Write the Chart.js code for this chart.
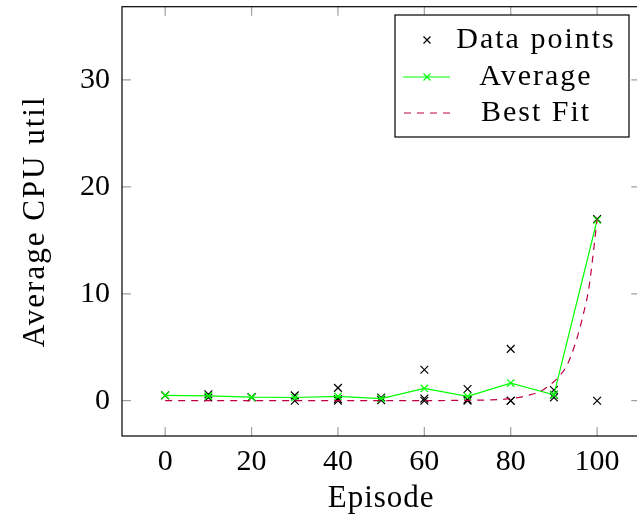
<!DOCTYPE html>
<html>
<head>
<meta charset="utf-8">
<script src="https://cdn.jsdelivr.net/npm/chart.js@4"></script>
<style>
  html, body { margin: 0; padding: 0; background: #fff; overflow: hidden; }
  #wrap { width: 647px; height: 522px; }
</style>
</head>
<body>
<div id="wrap"><canvas id="cpu" width="647" height="522"></canvas></div>
<script>
// Episodes at which CPU utilisation was sampled
const episodes = [0, 10, 20, 30, 40, 50, 60, 70, 80, 90, 100];
// Individual CPU utilisation samples per episode
const cpuSamples = [
  [0.5],
  [0.6, 0.3],
  [0.35, 0.3],
  [0.5, 0.0],
  [1.2, 0.15, 0.0],
  [0.3, 0.05],
  [2.9, 0.2, 0.0],
  [1.1, 0.1, 0.0],
  [4.85, 0.0, 0.0],
  [1.0, 0.55, 0.3],
  [17.0, 0.0]
];
// Mean utilisation per episode
const averageUtil = [0.5, 0.45, 0.33, 0.3, 0.4, 0.2, 1.15, 0.4, 1.65, 0.55, 16.9];
// Fitted curve
const fitEpisodes = [0, 10, 20, 30, 40, 50, 60, 65, 70, 75, 78, 81, 84, 87, 89, 91, 93, 95, 96, 97, 98, 99, 100];
const fitUtil = [0, 0, 0, 0, 0, 0, 0, 0.02, 0.04, 0.07, 0.12, 0.25, 0.5, 0.9, 1.45, 2.2, 3.3, 5.4, 6.8, 8.4, 10.3, 13.4, 17.0];
// Axis ticks
const xTicks = [0, 20, 40, 60, 80, 100];
const yTicks = [0, 10, 20, 30];

const seriesNames = ['Data points', 'Average', 'Best Fit'];
const xTitle = 'Episode';
const yTitle = 'Average CPU util';
const SERIF = "'Liberation Serif', 'Times New Roman', serif";

const samplePoints = episodes.flatMap((ep, i) => cpuSamples[i].map(v => ({ x: ep, y: v })));
const averagePoints = episodes.map((ep, i) => ({ x: ep, y: averageUtil[i] }));
const fitPoints = fitEpisodes.map((ep, i) => ({ x: ep, y: fitUtil[i] }));

const FIT_COLOR = 'rgb(191,0,64)';
const AVG_COLOR = 'rgb(0,255,0)';

// Keep the plot box exactly where the fixed axis sizes put it
function noScalePadding(scale) {
  scale.paddingLeft = 0; scale.paddingRight = 0;
  scale.paddingTop = 0; scale.paddingBottom = 0;
}

// Inward tick marks on all four sides plus the black frame
const frameTicks = {
  id: 'frameTicks',
  afterDatasetsDraw(chart) {
    const { ctx, chartArea: a, scales } = chart;
    const len = 9;
    ctx.save();
    ctx.strokeStyle = '#a0a0a0';
    ctx.lineWidth = 1.2;
    ctx.beginPath();
    xTicks.forEach(v => {
      const px = scales.x.getPixelForValue(v);
      ctx.moveTo(px, a.bottom); ctx.lineTo(px, a.bottom - len);
      ctx.moveTo(px, a.top); ctx.lineTo(px, a.top + len);
    });
    yTicks.forEach(v => {
      const py = scales.y.getPixelForValue(v);
      ctx.moveTo(a.left, py); ctx.lineTo(a.left + len, py);
      ctx.moveTo(a.right, py); ctx.lineTo(a.right - len, py);
    });
    ctx.stroke();
    ctx.strokeStyle = '#000';
    ctx.lineWidth = 1.2;
    ctx.strokeRect(a.left, a.top, a.right - a.left, a.bottom - a.top);
    ctx.restore();
  }
};

// Axis titles, set a little loose like the tick label face
const axisTitles = {
  id: 'axisTitles',
  afterDraw(chart) {
    const { ctx, chartArea: a } = chart;
    ctx.save();
    ctx.fillStyle = '#000';
    ctx.textAlign = 'center';
    ctx.textBaseline = 'alphabetic';
    ctx.font = `31px ${SERIF}`;
    ctx.letterSpacing = '1px';
    ctx.fillText(xTitle, (a.left + a.right) / 2, 507);
    ctx.letterSpacing = '2px';
    ctx.translate(44, (a.top + a.bottom) / 2);
    ctx.rotate(-Math.PI / 2);
    ctx.fillText(yTitle, 0, 0);
    ctx.restore();
  }
};

// Boxed legend in the upper right corner
const boxLegend = {
  id: 'boxLegend',
  afterDraw(chart) {
    const { ctx } = chart;
    const box = { x: 395, y: 15, w: 234, h: 122 };
    const rows = [40, 77, 113];
    const symX = 427, textX = 536;
    ctx.save();
    ctx.fillStyle = '#fff';
    ctx.fillRect(box.x, box.y, box.w, box.h);
    ctx.strokeStyle = '#000';
    ctx.lineWidth = 1.2;
    ctx.strokeRect(box.x, box.y, box.w, box.h);

    const cross = (x, y, r, color) => {
      ctx.strokeStyle = color;
      ctx.lineWidth = 1.2;
      ctx.beginPath();
      ctx.moveTo(x - r, y - r); ctx.lineTo(x + r, y + r);
      ctx.moveTo(x - r, y + r); ctx.lineTo(x + r, y - r);
      ctx.stroke();
    };
    // Data points
    cross(symX, rows[0], 3.5, '#000');
    // Average
    ctx.strokeStyle = AVG_COLOR;
    ctx.lineWidth = 1.2;
    ctx.beginPath(); ctx.moveTo(403, rows[1]); ctx.lineTo(450, rows[1]); ctx.stroke();
    cross(symX, rows[1], 3.5, AVG_COLOR);
    // Best Fit
    ctx.strokeStyle = FIT_COLOR;
    ctx.setLineDash([7, 6]);
    ctx.beginPath(); ctx.moveTo(404, rows[2]); ctx.lineTo(450, rows[2]); ctx.stroke();
    ctx.setLineDash([]);

    ctx.fillStyle = '#000';
    ctx.font = `30px ${SERIF}`;
    ctx.letterSpacing = '2px';
    ctx.textAlign = 'center';
    ctx.textBaseline = 'middle';
    seriesNames.forEach((name, i) => ctx.fillText(name, textX, rows[i]));
    ctx.restore();
  }
};

// Layering: samples at the bottom, then the average, then the fit on top
new Chart(document.getElementById('cpu'), {
  type: 'scatter',
  data: {
    datasets: [
      {
        label: seriesNames[0],
        data: samplePoints,
        showLine: false,
        pointStyle: 'crossRot',
        pointRadius: 5.5,
        pointBorderWidth: 1.2,
        borderColor: '#000',
        backgroundColor: '#000',
        order: 2
      },
      {
        label: seriesNames[1],
        data: averagePoints,
        showLine: true,
        borderColor: AVG_COLOR,
        backgroundColor: AVG_COLOR,
        borderWidth: 1.2,
        pointStyle: 'crossRot',
        pointRadius: 5.2,
        pointBorderWidth: 1.2,
        tension: 0,
        order: 1
      },
      {
        label: seriesNames[2],
        data: fitPoints,
        showLine: true,
        borderColor: FIT_COLOR,
        backgroundColor: FIT_COLOR,
        borderWidth: 1.2,
        borderDash: [7, 6],
        pointRadius: 0,
        cubicInterpolationMode: 'monotone',
        order: 0
      }
    ]
  },
  options: {
    responsive: false,
    animation: false,
    events: [],
    layout: { padding: { top: 6, right: 0, left: 0, bottom: 0 } },
    plugins: { legend: { display: false }, tooltip: { enabled: false } },
    scales: {
      x: {
        type: 'linear',
        min: -10,
        max: 110,
        afterFit(scale) { scale.height = 86; noScalePadding(scale); },
        afterBuildTicks(scale) { scale.ticks = xTicks.map(v => ({ value: v })); },
        grid: { display: false, drawTicks: false },
        border: { display: false },
        ticks: { color: '#000', padding: 8, font: { family: SERIF, size: 30 }, maxRotation: 0 }
      },
      y: {
        type: 'linear',
        min: -3.3,
        max: 36.85,
        afterFit(scale) { scale.width = 122; noScalePadding(scale); },
        afterBuildTicks(scale) { scale.ticks = yTicks.map(v => ({ value: v })); },
        grid: { display: false, drawTicks: false },
        border: { display: false },
        ticks: { color: '#000', padding: 12, font: { family: SERIF, size: 30 } }
      }
    }
  },
  plugins: [frameTicks, axisTitles, boxLegend]
});
</script>
</body>
</html>
